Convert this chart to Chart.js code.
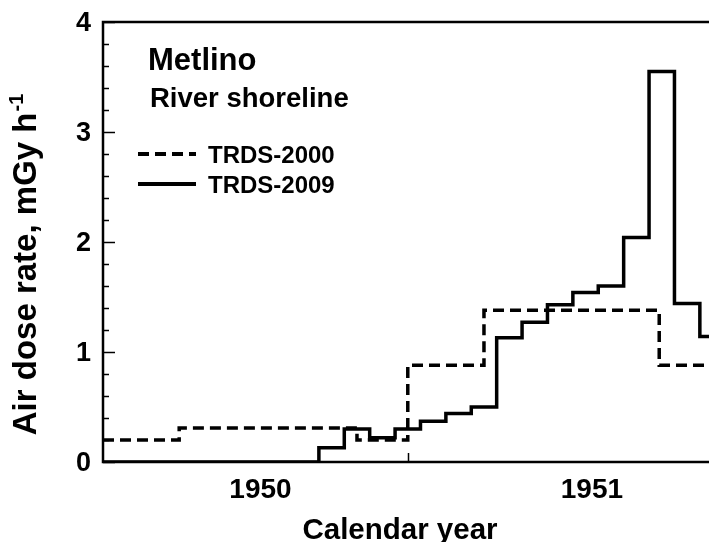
<!DOCTYPE html>
<html>
<head>
<meta charset="utf-8">
<script src="https://cdn.jsdelivr.net/npm/chart.js@4"></script>
<style>
  body { margin: 0; background: #fff; }
  #wrap { width: 709px; height: 542px; }
</style>
</head>
<body>
<div id="wrap"><canvas id="doseChart" width="709" height="542"></canvas></div>
<script>
// x values are months counted from the left edge of the plot
const dashMonths = [0, 3, 10, 12, 15, 21.9, 23.86];
const dashRate = [0.2, 0.31, 0.2, 0.88, 1.38, 0.88, 0.88];
const solidMonths = [0, 8.5, 9.5, 10.5, 11.5, 12.5, 13.5, 14.5, 15.5, 16.5, 17.5, 18.5, 19.5, 20.5, 21.5, 22.5, 23.5, 23.86];
const solidRate = [0, 0.13, 0.3, 0.22, 0.3, 0.37, 0.44, 0.5, 1.13, 1.27, 1.43, 1.54, 1.6, 2.04, 3.55, 1.44, 1.14, 1.14];
const yearLabels = ["1950", "1951"];
const yearPos = [6.2, 19.25];
const yearTick = 12;
const yTicks = [0, 1, 2, 3, 4];

const FONT = '"Liberation Sans", Arial, sans-serif';

// each value holds from its own x up to the next x
function toSteps(xs, ys) {
  const pts = [];
  xs.forEach((x, i) => {
    if (i > 0) pts.push({ x: x, y: ys[i - 1] });
    pts.push({ x: x, y: ys[i] });
  });
  return pts;
}

const axesPlugin = {
  id: "axesPlugin",
  afterDatasetsDraw(chart) {
    const ctx = chart.ctx;
    const xs = chart.scales.x;
    const ys = chart.scales.y;
    const a = chart.chartArea;
    ctx.save();
    ctx.strokeStyle = "#000";
    ctx.fillStyle = "#000";

    // frame: left, top, bottom
    ctx.lineWidth = 2.5;
    ctx.beginPath();
    ctx.moveTo(a.right + 2, a.top);
    ctx.lineTo(a.left, a.top);
    ctx.lineTo(a.left, a.bottom);
    ctx.lineTo(a.right + 2, a.bottom);
    ctx.stroke();

    // y ticks (inward), minor every 0.2
    ctx.lineWidth = 1.5;
    for (let v = 0; v <= 20; v++) {
      const py = Math.round(ys.getPixelForValue(v / 5)) + 0.5;
      const len = v % 5 === 0 ? 12 : 6;
      ctx.beginPath();
      ctx.moveTo(a.left, py);
      ctx.lineTo(a.left + len, py);
      ctx.stroke();
    }
    // x tick
    const tx = Math.round(xs.getPixelForValue(yearTick)) + 0.5;
    ctx.beginPath();
    ctx.moveTo(tx, a.bottom);
    ctx.lineTo(tx, a.bottom - 9);
    ctx.stroke();

    // y tick labels
    ctx.font = "bold 27px " + FONT;
    ctx.textAlign = "right";
    ctx.textBaseline = "middle";
    yTicks.forEach((t) => {
      ctx.fillText(String(t), 91, ys.getPixelForValue(t) + 2);
    });

    // x labels
    ctx.textAlign = "center";
    ctx.textBaseline = "alphabetic";
    ctx.font = "bold 28px " + FONT;
    yearLabels.forEach((lab, i) => {
      ctx.fillText(lab, xs.getPixelForValue(yearPos[i]), 498);
    });

    // x title
    ctx.font = "bold 29.5px " + FONT;
    ctx.fillText("Calendar year", 400, 539);

    // y title with superscript
    ctx.save();
    ctx.translate(24, 265);
    ctx.rotate(-Math.PI / 2);
    ctx.font = "bold 33px " + FONT;
    const main = "Air dose rate, mGy h";
    const w = ctx.measureText(main).width;
    ctx.font = "bold 20px " + FONT;
    const sw = ctx.measureText("-1").width;
    const start = -(w + sw) / 2;
    ctx.textAlign = "left";
    ctx.font = "bold 33px " + FONT;
    ctx.fillText(main, start, 12);
    ctx.font = "bold 20px " + FONT;
    ctx.fillText("-1", start + w + 1, -1);
    ctx.restore();

    // annotations
    ctx.textAlign = "left";
    ctx.font = "bold 31px " + FONT;
    ctx.fillText("Metlino", 148, 70);
    ctx.font = "bold 27.5px " + FONT;
    ctx.fillText("River shoreline", 150, 107);

    // legend
    const ds = chart.data.datasets;
    const rows = [154, 184];
    ds.forEach((d, i) => {
      ctx.lineWidth = 4;
      ctx.setLineDash(d.borderDash || []);
      ctx.beginPath();
      ctx.moveTo(138, rows[i]);
      ctx.lineTo(196, rows[i]);
      ctx.stroke();
      ctx.setLineDash([]);
      ctx.font = "bold 24px " + FONT;
      ctx.fillText(d.label, 208, rows[i] + 9);
    });
    ctx.restore();
  },
};

const ctx = document.getElementById("doseChart").getContext("2d");
const chart = new Chart(ctx, {
  type: "line",
  data: {
    datasets: [
      {
        label: "TRDS-2000",
        data: toSteps(dashMonths, dashRate),
        borderColor: "#000",
        borderWidth: 3.5,
        borderDash: [11, 6],
        pointRadius: 0,
        tension: 0,
        fill: false,
      },
      {
        label: "TRDS-2009",
        data: toSteps(solidMonths, solidRate),
        borderColor: "#000",
        borderWidth: 3.5,
        pointRadius: 0,
        tension: 0,
        fill: false,
      },
    ],
  },
  options: {
    responsive: false,
    animation: false,
    layout: { padding: { left: 103, top: 22, right: 0, bottom: 80 } },
    scales: {
      x: { type: "linear", min: 0, max: 23.86, display: false },
      y: { type: "linear", min: 0, max: 4, display: false },
    },
    plugins: {
      legend: { display: false },
      tooltip: { enabled: false },
      title: { display: false },
    },
  },
  plugins: [axesPlugin],
});
</script>
</body>
</html>
